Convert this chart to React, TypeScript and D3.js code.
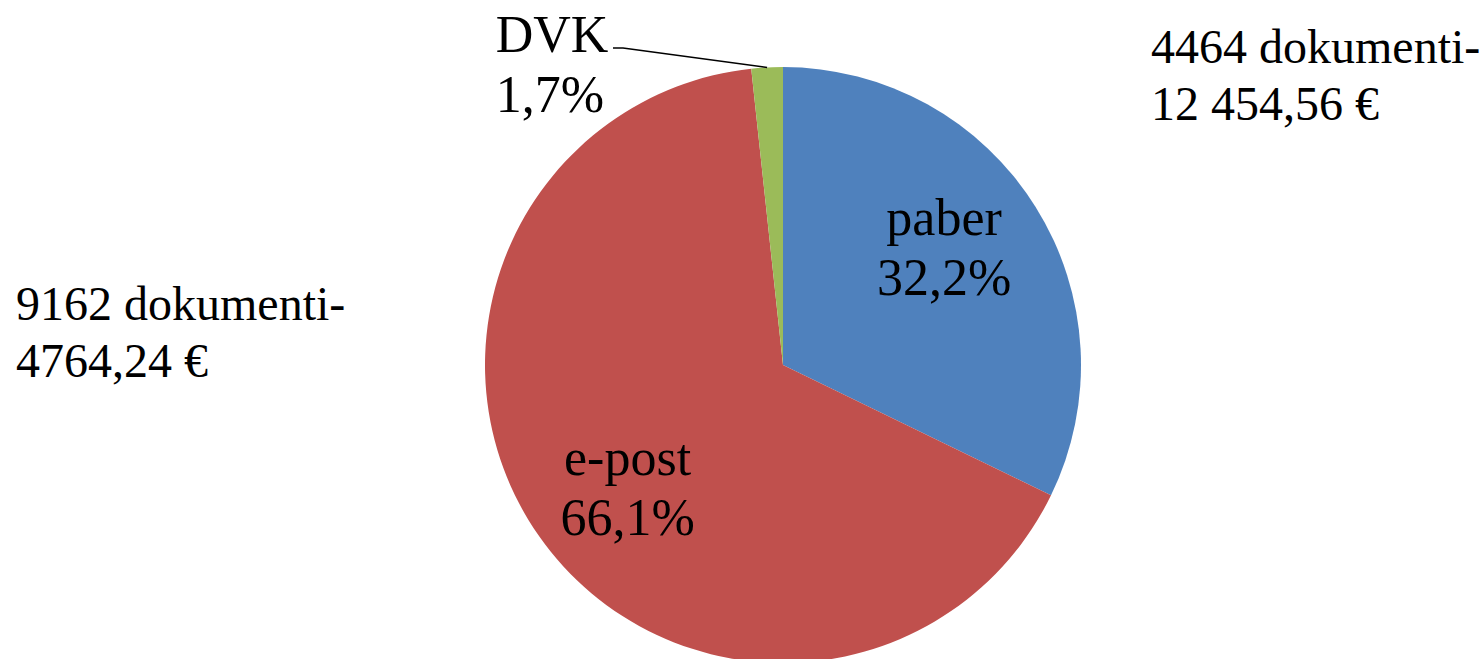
import React from "react";
import * as d3 from "d3";

const categories = ["paber", "e-post", "DVK"];
const percents = [32.2, 66.1, 1.7];
const percentLabels = ["32,2%", "66,1%", "1,7%"];
const colors = ["#4F81BD", "#C0504D", "#9BBB59"];
const noteRight = ["4464 dokumenti-", "12 454,56 €"];
const noteLeft = ["9162 dokumenti-", "4764,24 €"];

const W = 1483;
const H = 659;
const cx = 783;
const cy = 365;
const R = 298;
const FONT = '"Liberation Serif", "Times New Roman", Times, "DejaVu Serif", serif';
const FS_LABEL = 52;
const FS_NOTE = 48;
const LH = 60;

export default function App() {
  const pie = d3
    .pie<number>()
    .sort(null)
    .value((d) => d)
    .startAngle(0)
    .endAngle(2 * Math.PI);
  const arcs = pie(percents);
  const arc = d3.arc<d3.PieArcDatum<number>>().innerRadius(0).outerRadius(R);
  const labelArc = d3.arc<d3.PieArcDatum<number>>().innerRadius(190).outerRadius(190);
  const edgeArc = d3.arc<d3.PieArcDatum<number>>().innerRadius(R).outerRadius(R);
  const firstLineDy = [-29, 1];

  const dvk = arcs[2];
  const [ex, ey] = edgeArc.centroid(dvk);

  return (
    <svg
      width={W}
      height={H}
      style={{ position: "absolute", left: 0, top: 0, background: "#fff", fontFamily: FONT }}
    >
      <g transform={`translate(${cx},${cy})`}>
        {arcs.map((a, i) => (
          <path key={categories[i]} d={arc(a) || ""} fill={colors[i]} />
        ))}
        {arcs.slice(0, 2).map((a, i) => {
          const [lx, ly] = labelArc.centroid(a);
          return (
            <text
              key={"l" + i}
              x={lx}
              y={ly + firstLineDy[i]}
              textAnchor="middle"
              fill="#000"
              style={{ fontFamily: FONT, fontSize: FS_LABEL }}
            >
              <tspan x={lx}>{categories[i]}</tspan>
              <tspan x={lx} dy={LH}>
                {percentLabels[i]}
              </tspan>
            </text>
          );
        })}
        <polyline
          points={`${613 - cx},${48 - cy} ${623 - cx},${48 - cy} ${ex},${ey}`}
          fill="none"
          stroke="#000"
          strokeWidth={1.5}
        />
      </g>
      <text x={551} y={52} textAnchor="middle" fill="#000" style={{ fontFamily: FONT, fontSize: FS_LABEL }}>
        <tspan x={552}>{categories[2]}</tspan>
        <tspan x={550} dy={LH}>
          {percentLabels[2]}
        </tspan>
      </text>
      <text x={1151} y={63} fill="#000" style={{ fontFamily: FONT, fontSize: FS_NOTE }}>
        <tspan x={1151}>{noteRight[0]}</tspan>
        <tspan x={1151} dy={57}>
          {noteRight[1]}
        </tspan>
      </text>
      <text x={16} y={320} fill="#000" style={{ fontFamily: FONT, fontSize: FS_NOTE }}>
        <tspan x={16}>{noteLeft[0]}</tspan>
        <tspan x={16} dy={57}>
          {noteLeft[1]}
        </tspan>
      </text>
    </svg>
  );
}
